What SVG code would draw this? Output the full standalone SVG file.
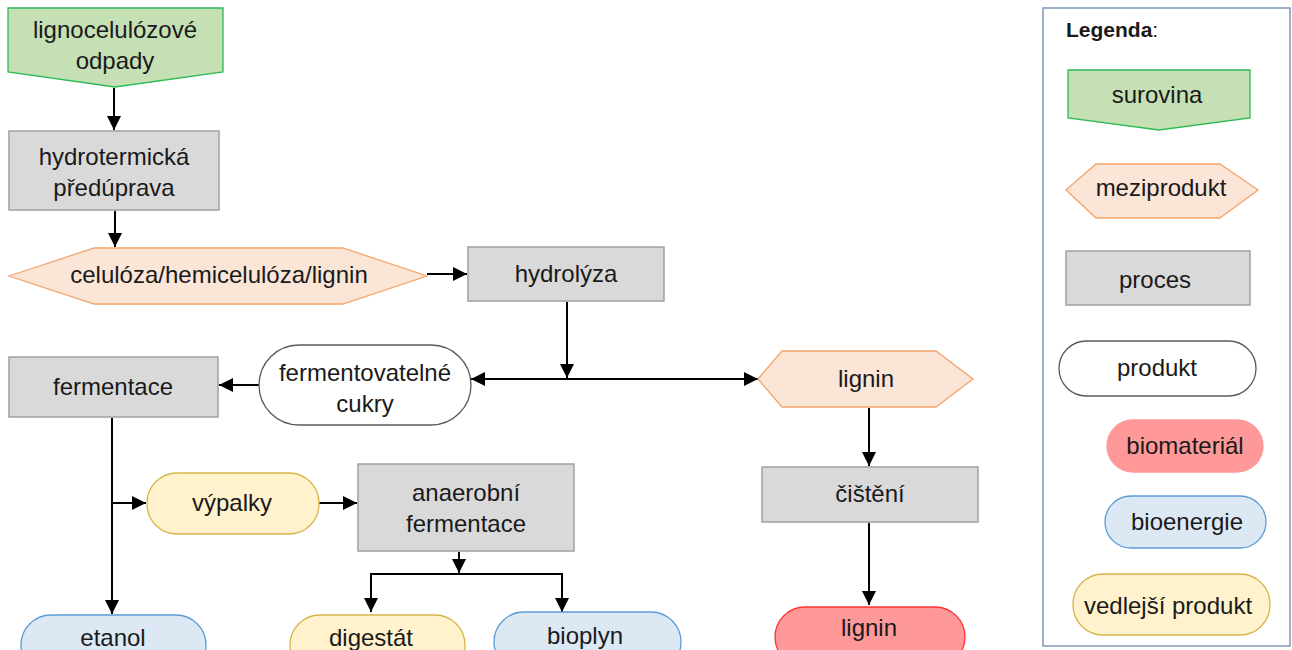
<svg xmlns="http://www.w3.org/2000/svg" width="1292" height="650" viewBox="0 0 1292 650">
  <style>
    text { font-family: "Liberation Sans", Arial, sans-serif; font-size: 24px; fill: #1a1a1a; text-anchor: middle; }
    .raw { fill: #c5e0b4; stroke: #2dbb55; stroke-width: 1.3; }
    .mid { fill: #fbe5d6; stroke: #f4a46a; stroke-width: 1.3; }
    .proc { fill: #d9d9d9; stroke: #a0a0a0; stroke-width: 1.5; }
    .prod { fill: #ffffff; stroke: #595959; stroke-width: 1.3; }
    .bmat { fill: #ff9999; stroke: #ff3333; stroke-width: 1.3; }
    .bmat-l { fill: #ff9999; stroke: #ff9999; stroke-width: 1.3; }
    .beng { fill: #dde8f5; stroke: #5b9bd5; stroke-width: 1.3; }
    .side { fill: #fff2cc; stroke: #d6b44a; stroke-width: 1.3; }
    .conn path { fill: none; stroke: #000; stroke-width: 2; }
  </style>
  <defs>
    <marker id="ah" markerUnits="userSpaceOnUse" markerWidth="14" markerHeight="14" refX="12" refY="6" orient="auto-start-reverse" viewBox="0 0 12 12">
      <path d="M0,0 L12,6 L0,12 Z" fill="#000"/>
    </marker>
  </defs>

  <!-- connectors -->
  <g id="connectors" class="conn">
    <path d="M114,88 V130" marker-end="url(#ah)"/>
    <path d="M115,211 V247" marker-end="url(#ah)"/>
    <path d="M427,274 H467" marker-end="url(#ah)"/>
    <path d="M567,302 V378" marker-end="url(#ah)"/>
    <path d="M471,379 H758" marker-start="url(#ah)" marker-end="url(#ah)"/>
    <path d="M259,385 H219" marker-end="url(#ah)"/>
    <path d="M112,418 V614" marker-end="url(#ah)"/>
    <path d="M112,503 H146" marker-end="url(#ah)"/>
    <path d="M319,503 H357" marker-end="url(#ah)"/>
    <path d="M459,552 V573" marker-end="url(#ah)"/>
    <path d="M459,574 H371 V612" marker-end="url(#ah)"/>
    <path d="M459,574 H562 V612" marker-end="url(#ah)"/>
    <path d="M869,408 V466" marker-end="url(#ah)"/>
    <path d="M869,523 V605" marker-end="url(#ah)"/>
  </g>

  <!-- nodes -->
  <g id="n-odpady">
    <path class="raw" d="M8,8 H223 V72 L115,87 L8,72 Z"/>
    <text x="115" y="38">lignocelulózové</text>
    <text x="115" y="69">odpady</text>
  </g>
  <g id="n-predprava">
    <rect class="proc" x="9" y="131" width="210" height="79"/>
    <text x="114" y="165">hydrotermická</text>
    <text x="114" y="196">předúprava</text>
  </g>
  <g id="n-celuloza">
    <path class="mid" d="M9,276 L94,248 H343 L427,276 L343,304 H94 Z"/>
    <text x="219" y="283">celulóza/hemicelulóza/lignin</text>
  </g>
  <g id="n-hydrolyza">
    <rect class="proc" x="468" y="247" width="196" height="54"/>
    <text x="566" y="282">hydrolýza</text>
  </g>
  <g id="n-cukry">
    <rect class="prod" x="259" y="345" width="212" height="80" rx="40"/>
    <text x="365" y="381">fermentovatelné</text>
    <text x="365" y="412">cukry</text>
  </g>
  <g id="n-lignin-mid">
    <path class="mid" d="M758,379 L782,351 H936 L973,379 L936,407 H782 Z"/>
    <text x="866" y="387">lignin</text>
  </g>
  <g id="n-fermentace">
    <rect class="proc" x="9" y="357" width="209" height="60"/>
    <text x="113" y="395">fermentace</text>
  </g>
  <g id="n-vypalky">
    <rect class="side" x="147" y="473" width="172" height="61" rx="30"/>
    <text x="232" y="511">výpalky</text>
  </g>
  <g id="n-anaerobni">
    <rect class="proc" x="358" y="464" width="216" height="87"/>
    <text x="466" y="501">anaerobní</text>
    <text x="466" y="532">fermentace</text>
  </g>
  <g id="n-cisteni">
    <rect class="proc" x="762" y="467" width="216" height="55"/>
    <text x="870" y="502">čištění</text>
  </g>
  <g id="n-etanol">
    <rect class="beng" x="21" y="615" width="185" height="60" rx="30"/>
    <text x="113" y="646">etanol</text>
  </g>
  <g id="n-digestat">
    <rect class="side" x="290" y="615" width="175" height="60" rx="30"/>
    <text x="371" y="646">digestát</text>
  </g>
  <g id="n-bioplyn">
    <rect class="beng" x="494" y="612" width="187" height="60" rx="30"/>
    <text x="585" y="644">bioplyn</text>
  </g>
  <g id="n-lignin-out">
    <rect class="bmat" x="775" y="607" width="190" height="60" rx="30"/>
    <text x="869" y="636">lignin</text>
  </g>

  <!-- legend -->
  <g id="legend">
    <rect x="1043" y="8" width="247" height="638" fill="#ffffff" stroke="#8097b8" stroke-width="1.5"/>
    <text x="1066" y="37" style="text-anchor:start;font-size:21px;font-weight:bold">Legenda<tspan font-weight="normal">:</tspan></text>
    <path class="raw" d="M1068,70 H1250 V118 L1159,130 L1068,118 Z"/>
    <text x="1157" y="103">surovina</text>
    <path class="mid" d="M1066,190 L1096,164 H1220 L1258,190 L1220,218 H1096 Z"/>
    <text x="1161" y="196">meziprodukt</text>
    <rect class="proc" x="1066" y="251" width="184" height="54"/>
    <text x="1155" y="288">proces</text>
    <rect class="prod" x="1059" y="341" width="197" height="55" rx="27.5"/>
    <text x="1157" y="376">produkt</text>
    <rect class="bmat-l" x="1107" y="420" width="156" height="52" rx="26"/>
    <text x="1185" y="454">biomateriál</text>
    <rect class="beng" x="1105" y="496" width="161" height="52" rx="26"/>
    <text x="1187" y="530">bioenergie</text>
    <rect class="side" x="1073" y="574" width="197" height="61" rx="30"/>
    <text x="1168" y="614">vedlejší produkt</text>
  </g>
</svg>
